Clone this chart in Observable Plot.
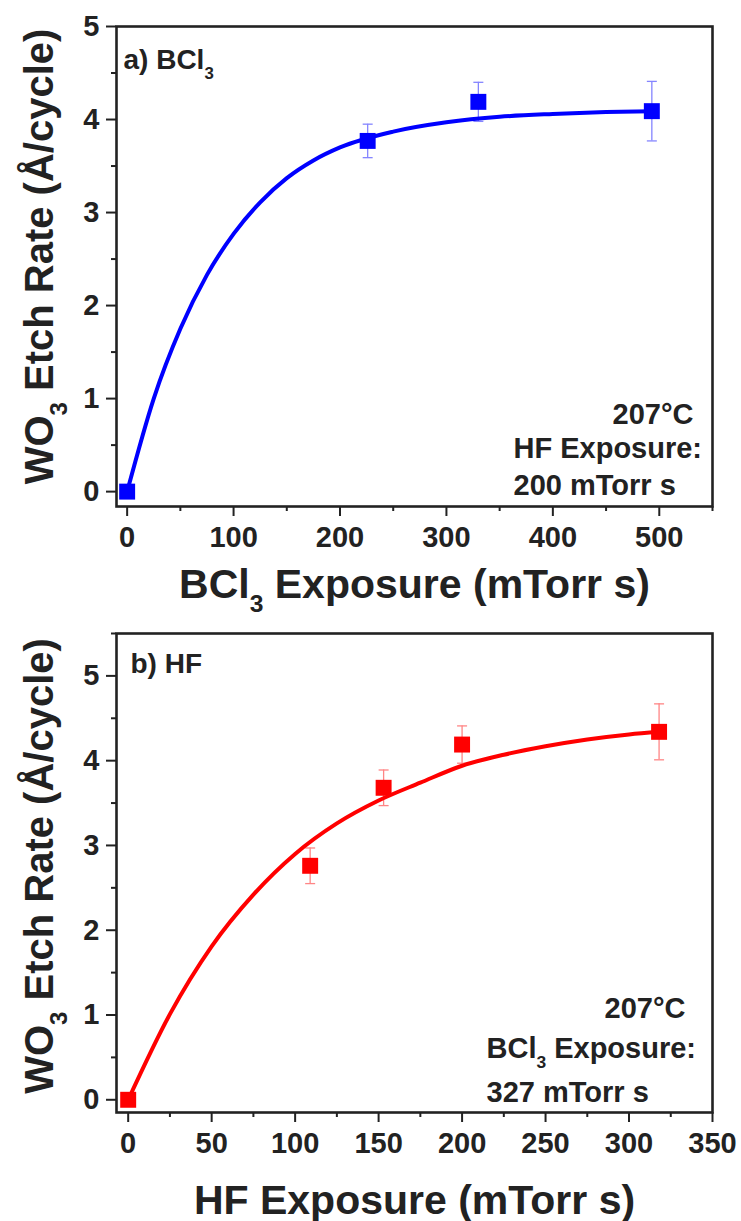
<!DOCTYPE html>
<html>
<head>
<meta charset="utf-8">
<script src="https://cdn.jsdelivr.net/npm/d3@7"></script>
<script src="https://cdn.jsdelivr.net/npm/@observablehq/plot@0.6"></script>
<style>
  html, body { margin: 0; padding: 0; background: #fff; }
  #chart svg { display: block; }
</style>
</head>
<body>
<div id="chart"></div>
<script>
// ---------- Panel a) BCl3 exposure ----------
const bclExposure = [0, 226, 330, 493];
const bclRate     = [0, 3.77, 4.19, 4.09];
const bclErr      = [0, 0.18, 0.21, 0.32];
// fitted curve
const bclFitX = [0, 25, 50, 75, 100, 125, 150, 175, 200, 250, 300, 350, 400, 450, 493];
const bclFitY = [0, 1.00, 1.75, 2.33, 2.77, 3.11, 3.37, 3.56, 3.70, 3.87, 3.97, 4.03, 4.06, 4.08, 4.09];
const bclXTicks = [0, 100, 200, 300, 400, 500];
const bclXMinor = [50, 150, 250, 350, 450, 550];
const bclYTicks = [0, 1, 2, 3, 4, 5];
const bclYMinor = [0.5, 1.5, 2.5, 3.5, 4.5];
const bclNotes = ["207°C", "HF Exposure:", "200 mTorr s"];

// ---------- Panel b) HF exposure ----------
const hfExposure = [0, 109, 153, 200, 318];
const hfRate     = [0, 2.76, 3.68, 4.19, 4.34];
const hfErr      = [0, 0.21, 0.21, 0.22, 0.33];
const hfFitX = [0, 25, 50, 75, 100, 125, 150, 175, 200, 225, 250, 275, 300, 318];
const hfFitY = [0, 1.01, 1.81, 2.42, 2.90, 3.26, 3.53, 3.74, 3.94, 4.07, 4.17, 4.25, 4.31, 4.34];
const hfXTicks = [0, 50, 100, 150, 200, 250, 300, 350];
const hfXMinor = [25, 75, 125, 175, 225, 275, 325];
const hfYTicks = [0, 1, 2, 3, 4, 5];
const hfYMinor = [0.5, 1.5, 2.5, 3.5, 4.5, 5.5];
const hfNotes = ["207°C", "BCl₃ Exposure:", "327 mTorr s"];

const yTitle = "WO₃ Etch Rate (Å/cycle)";

const ink = "#222";
const font = "'Liberation Sans', Arial, Helvetica, sans-serif";

const capSymbol = {
  draw(ctx, size) {
    const w = Math.sqrt(size / Math.PI);
    ctx.moveTo(-w, 0);
    ctx.lineTo(w, 0);
  }
};

function panel(cfg) {
  const pts = cfg.xs.map((x, i) => ({x, y: cfg.ys[i], e: cfg.es[i]}));
  const fit = cfg.fx.map((x, i) => ({x, y: cfg.fy[i]}));
  const bold = {fontWeight: "bold", fill: ink};
  return Plot.plot({
    width: 741,
    height: cfg.height,
    marginTop: cfg.mt,
    marginBottom: cfg.mb,
    marginLeft: 116,
    marginRight: 29,
    x: {domain: cfg.xDomain, label: null},
    y: {domain: cfg.yDomain, label: null},
    style: {fontFamily: font, color: ink, background: "#fff", overflow: "visible"},
    marks: [
      Plot.axisX({ticks: cfg.xTicks, tickSize: 10, tickPadding: 10, fontSize: 29, fontWeight: "bold",
                  tickFormat: d => String(d), label: null, stroke: ink, strokeWidth: 2}),
      Plot.axisX({ticks: cfg.xMinor, tickSize: 5, tickFormat: () => "", label: null, stroke: ink, strokeWidth: 2}),
      Plot.axisY({ticks: cfg.yTicks, tickSize: 10, tickPadding: 7, fontSize: 29, fontWeight: "bold",
                  tickFormat: d => String(d), label: null, stroke: ink, strokeWidth: 2}),
      Plot.axisY({ticks: cfg.yMinor, tickSize: 5, tickFormat: () => "", label: null, stroke: ink, strokeWidth: 2}),
      // error bars
      Plot.ruleX(pts, {x: "x", y1: d => d.y - d.e, y2: d => d.y + d.e, stroke: cfg.errColor, strokeWidth: 1.3}),
      Plot.dot(pts, {x: "x", y: d => d.y + d.e, symbol: capSymbol, r: 5, fill: "none", stroke: cfg.errColor, strokeWidth: 1.3}),
      Plot.dot(pts, {x: "x", y: d => d.y - d.e, symbol: capSymbol, r: 5, fill: "none", stroke: cfg.errColor, strokeWidth: 1.3}),
      // fit line
      Plot.line(fit, {x: "x", y: "y", stroke: cfg.color, strokeWidth: 4, curve: "monotone-x"}),
      // data squares
      Plot.dot(pts, {x: "x", y: "y", symbol: "square", r: 9, fill: cfg.color, stroke: "none"}),
      Plot.frame({stroke: ink, strokeWidth: 2.6}),
      // panel tag
      Plot.text([cfg.tag], {text: d => d, frameAnchor: "top-left", dx: cfg.tagDx, dy: cfg.tagDy,
                            textAnchor: "start", lineAnchor: "bottom", fontSize: 28, ...bold}),
      // notes
      Plot.text([cfg.notes[0]], {text: d => d, frameAnchor: "bottom-right", dx: cfg.n1[0], dy: cfg.n1[1],
                                 textAnchor: "end", lineAnchor: "bottom", fontSize: 29, ...bold}),
      Plot.text([cfg.notes[1]], {text: d => d, frameAnchor: "bottom-right", dx: cfg.n2[0], dy: cfg.n2[1],
                                 textAnchor: "start", lineAnchor: "bottom", fontSize: 29, ...bold}),
      Plot.text([cfg.notes[2]], {text: d => d, frameAnchor: "bottom-right", dx: cfg.n2[0], dy: cfg.n3,
                                 textAnchor: "start", lineAnchor: "bottom", fontSize: 29, ...bold}),
      // axis titles
      Plot.text([cfg.xTitle], {text: d => d, frameAnchor: "bottom", dy: cfg.xTitleDy,
                               textAnchor: "middle", lineAnchor: "bottom", fontSize: 41, ...bold}),
      Plot.text([yTitle], {text: d => d, frameAnchor: "left", rotate: -90, dx: -64, dy: cfg.yTitleDy,
                           textAnchor: "middle", lineAnchor: "bottom", fontSize: 40, ...bold})
    ]
  });
}

const chartA = panel({
  height: 610, mt: 26, mb: 104,
  xDomain: [-10, 550], yDomain: [-0.16, 5],
  xs: bclExposure, ys: bclRate, es: bclErr, fx: bclFitX, fy: bclFitY,
  xTicks: bclXTicks, xMinor: bclXMinor, yTicks: bclYTicks, yMinor: bclYMinor,
  color: "#0000ff", errColor: "#8585ff",
  tag: "a) BCl₃", tagDx: 7, tagDy: 42,
  notes: bclNotes, n1: [-19, -83], n2: [-199, -49], n3: -12,
  xTitle: "BCl₃ Exposure (mTorr s)", xTitleDy: 91, yTitleDy: -10
});

const chartB = panel({
  height: 611, mt: 23, mb: 109,
  xDomain: [-7, 350], yDomain: [-0.15, 5.5],
  xs: hfExposure, ys: hfRate, es: hfErr, fx: hfFitX, fy: hfFitY,
  xTicks: hfXTicks, xMinor: hfXMinor, yTicks: hfYTicks, yMinor: hfYMinor,
  color: "#ff0000", errColor: "#ff8585",
  tag: "b) HF", tagDx: 14, tagDy: 39,
  notes: hfNotes, n1: [-27, -95], n2: [-226, -55], n3: -11,
  xTitle: "HF Exposure (mTorr s)", xTitleDy: 101, yTitleDy: -7
});

const root = document.getElementById("chart");
root.appendChild(chartA);
root.appendChild(chartB);

// turn "₃" into a real subscript tspan
const NS = "http://www.w3.org/2000/svg";
root.querySelectorAll("text").forEach(el => {
  if (el.children.length) return;
  const t = el.textContent;
  if (!t.includes("₃")) return;
  const fs = parseFloat(getComputedStyle(el).fontSize) || 28;
  const parts = t.split("₃");
  el.textContent = "";
  parts.forEach((p, i) => {
    if (i === 0) { el.appendChild(document.createTextNode(p)); return; }
    const s = document.createElementNS(NS, "tspan");
    s.setAttribute("font-size", (fs * 0.6).toFixed(1));
    s.setAttribute("dy", (fs * 0.36).toFixed(1));
    s.textContent = "3";
    el.appendChild(s);
    const r = document.createElementNS(NS, "tspan");
    r.setAttribute("dy", (-fs * 0.36).toFixed(1));
    r.textContent = p;
    el.appendChild(r);
  });
});
</script>
</body>
</html>
